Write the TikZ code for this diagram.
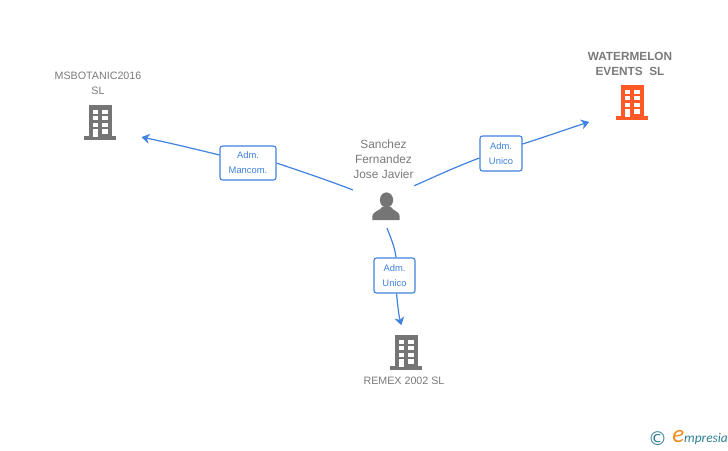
\documentclass[tikz,border=0pt]{standalone}
\usepackage{fontspec}
\setmainfont{Liberation Sans}
\newfontfamily\logofont{Carlito}
\newfontfamily\signfont{DejaVu Sans}
\usetikzlibrary{arrows.meta}
\definecolor{iconGray}{HTML}{757575}
\definecolor{textGray}{HTML}{7A7A7A}
\definecolor{linkBlue}{HTML}{3F82E0}
\definecolor{firmOrange}{HTML}{FF5A26}
\definecolor{logoTeal}{HTML}{2F7F93}
\definecolor{logoOrange}{HTML}{F28C1E}
\tikzset{
	link/.style={draw=linkBlue,line width=1.2pt,-{Stealth[length=8pt,width=10pt,inset=2.5pt]}},
	linkplain/.style={draw=linkBlue,line width=1.2pt},
	role/.style={draw=linkBlue,fill=white,line width=1.1pt,rounded corners=2.5pt,text=linkBlue,align=center,inner sep=0pt,font=\fontsize{9.4}{15}\selectfont},
	firmname/.style={text=textGray,align=center,inner sep=0pt,font=\fontsize{10.7}{15}\selectfont},
	spot/.style={circle,inner sep=0pt},
	building/.pic={
		\fill[pic actions] (-11,-17) rectangle (11.5,15);
		\fill[pic actions] (-16,14) rectangle (16,17.5);
		\foreach \y in {-12.5,-5.8,0.8} {
			\fill[white] (-7,\y) rectangle (-2,\y+4.2);
			\fill[white] (2,\y) rectangle (7.7,\y+4.2);
		}
		\fill[white] (-7,7) rectangle (-2,15);
		\fill[white] (2,7) rectangle (7.7,11.5);
	}
}
\begin{document}
\begin{tikzpicture}[x=1pt,y=-1pt]
	\useasboundingbox (0,0) rectangle (728,450);
	\pic[fill=iconGray] at (100,122) {building};
	\pic[fill=firmOrange] at (632,102) {building};
	\pic[fill=iconGray] at (406,352) {building};
	\fill[iconGray] (386.5,200) ellipse (6.6 and 7.6);
	\fill[iconGray] (372.3,220) -- (372.3,216) .. controls (373,211) and (380,211) .. (382,207) -- (391,207) .. controls (393,211) and (399,211) .. (399.7,216) -- (399.7,220) -- cycle;
	\node[spot,minimum size=88pt] (msb) at (100,122) {};
	\node[spot,minimum size=94pt] (water) at (632,102) {};
	\node[spot,minimum size=54pt] (remex) at (406,352) {};
	\node[minimum width=61pt,minimum height=42pt,inner sep=0pt] (person) at (383.5,207) {};
	\node[firmname] (msbname) at (98,83.5) {MSBOTANIC2016\\SL};
	\node[firmname,font=\fontsize{11.8}{15}\selectfont\bfseries] (watername) at (630,63.5) {WATERMELON\\EVENTS\ \ SL};
	\node[firmname,font=\fontsize{11.9}{15}\selectfont] (personname) at (383.5,159) {Sanchez\\Fernandez\\Jose Javier};
	\node[firmname] (remexname) at (404,381) {REMEX 2002 SL};
	\node[role,minimum width=56pt,minimum height=34pt] (mancom) at (248,163) {Adm.\\Mancom.};
	\node[role,minimum width=42pt,minimum height=35pt] (unicoa) at (501,153.5) {Adm.\\Unico};
	\node[role,minimum width=41pt,minimum height=35pt] (unicob) at (394.5,275.5) {Adm.\\Unico};
	\draw[linkplain] (person.151) .. controls (330,181) and (303,172) .. (mancom.east);
	\draw[link] ([yshift=8pt]mancom.west) .. controls (195,149) and (170,143) .. (msb.-20);
	\draw[linkplain] (person.north east) .. controls (436,176) and (458,166) .. ([yshift=-4.5pt]unicoa.west);
	\draw[link] ([yshift=9.5pt]unicoa.east) .. controls (545,137) and (567,129) .. (water.205);
	\draw[linkplain] ([xshift=3.5pt]person.south) .. controls (391,238) and (395,248) .. ([xshift=1.5pt]unicob.north);
	\draw[link] ([xshift=2pt]unicob.south) .. controls (397.5,303) and (398.5,314) .. (remex.100);
	\node[text=logoTeal,inner sep=0pt,font=\signfont\fontsize{19}{19}\selectfont] (copysign) at (657.5,438.5) {©};
	\node[text=logoTeal,inner sep=0pt,anchor=west,font=\logofont\itshape\fontsize{13.4}{14}\selectfont] (logo) at (684,439) {mpresia};
	\node[text=logoOrange,inner sep=0pt,anchor=east,font=\logofont\itshape\fontsize{25}{25}\selectfont] (logoe) at (684.5,436.5) {e};
\end{tikzpicture}
\end{document}
